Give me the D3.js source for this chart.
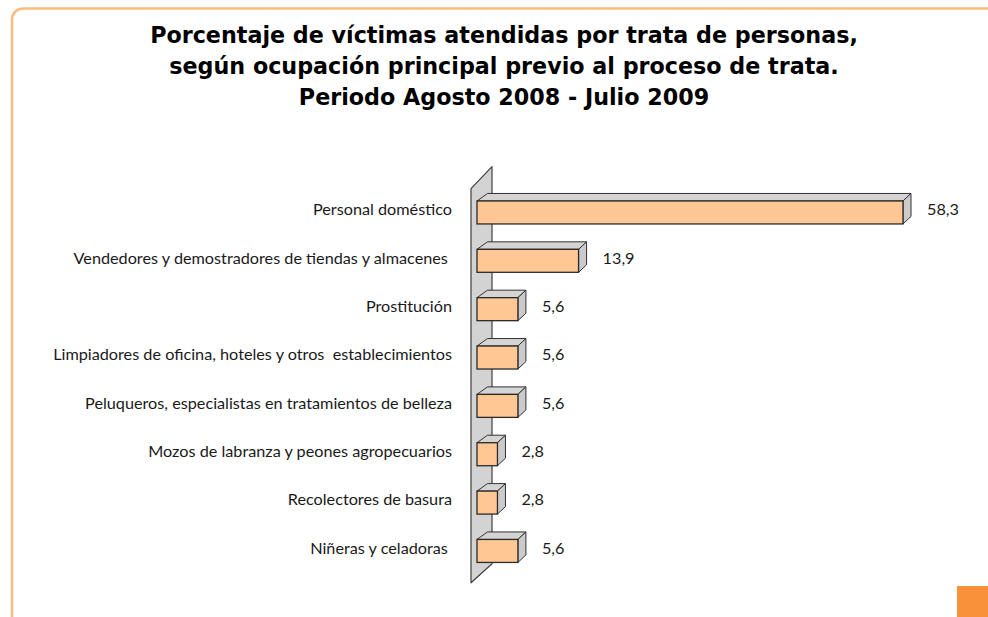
<!DOCTYPE html>
<html>
<head>
<meta charset="utf-8">
<script src="https://cdn.jsdelivr.net/npm/d3@7"></script>
<style>
  html, body { margin: 0; padding: 0; background: #ffffff; }
  svg { display: block; }
  text { white-space: pre; }
</style>
</head>
<body>
<script>
// ---- Data ----
const titleLines = [
  "Porcentaje de víctimas atendidas por trata de personas,",
  "según ocupación principal previo al proceso de trata.",
  "Periodo Agosto 2008 - Julio 2009"
];
const categories = [
  "Personal doméstico",
  "Vendedores y demostradores de tiendas y almacenes ",
  "Prostitución",
  "Limpiadores de oficina, hoteles y otros  establecimientos",
  "Peluqueros, especialistas en tratamientos de belleza",
  "Mozos de labranza y peones agropecuarios",
  "Recolectores de basura",
  "Niñeras y celadoras "
];
const values = [58.3, 13.9, 5.6, 5.6, 5.6, 2.8, 2.8, 5.6];
const valueLabels = ["58,3", "13,9", "5,6", "5,6", "5,6", "2,8", "2,8", "5,6"];

// ---- Layout ----
const W = 988, H = 617;
const svg = d3.select("body").append("svg").attr("width", W).attr("height", H);

// frame
svg.append("rect")
  .attr("x", 12).attr("y", 8.5).attr("width", 1000).attr("height", 700)
  .attr("rx", 11).attr("ry", 11)
  .attr("fill", "none").attr("stroke", "#FDBB7C").attr("stroke-width", 2.5);

// orange square
svg.append("rect")
  .attr("x", 957).attr("y", 586).attr("width", 31).attr("height", 31)
  .attr("fill", "#F7923A");

// title
const titleFont = "Tahoma, 'DejaVu Sans', sans-serif";
const title = svg.append("g");
const baselines = [43, 74, 105];
titleLines.forEach((t, i) => {
  title.append("text")
    .attr("x", 504).attr("y", baselines[i])
    .attr("text-anchor", "middle")
    .attr("font-family", titleFont)
    .attr("font-weight", "bold")
    .attr("font-size", 22)
    .attr("fill", "#000")
    .text(t);
});
// fit title width (first line spans ~708px in reference)
{
  const first = title.select("text").node();
  const w = first.getComputedTextLength();
  const fs = 22 * 708 / w;
  title.selectAll("text").attr("font-size", fs);
}

// scales
const x = d3.scaleLinear().domain([0, 58.3]).range([477, 903]);
const y = d3.scaleBand().domain(categories).range([175.6, 587.8]).paddingInner(0.5244).paddingOuter(0.5244);
const bw = y.bandwidth();
const dxR = 8, dxL = 10.5, dy = -7.5;

// wall
const wallTop = y.range()[0] + 13, wallBot = y.range()[1] - 5;
svg.append("polygon")
  .attr("points", [
    [x(0) - 6, wallTop], [x(0) + 15, wallTop - 22],
    [x(0) + 15, wallBot - 19], [x(0) - 6, wallBot]
  ].map(p => p.join(",")).join(" "))
  .attr("fill", "#D3D3D3").attr("stroke", "#404040").attr("stroke-width", 1.2)
  .attr("stroke-linejoin", "round");

// bars
const labelFont = "Lato, 'Open Sans', sans-serif";
const bars = svg.append("g");
categories.forEach((c, i) => {
  const x0 = x(0), x1 = x(values[i]);
  const top = y(c), bot = y(c) + bw;
  const g = bars.append("g");
  // top face
  g.append("polygon")
    .attr("points", [[x0, top], [x0 + dxL, top + dy], [x1 + dxR, top + dy], [x1, top]].map(p => p.join(",")).join(" "))
    .attr("fill", "#D4D4D4").attr("stroke", "#333").attr("stroke-width", 1).attr("stroke-linejoin", "round");
  // side face
  g.append("polygon")
    .attr("points", [[x1, top], [x1 + dxR, top + dy], [x1 + dxR, bot + dy], [x1, bot]].map(p => p.join(",")).join(" "))
    .attr("fill", "#CBCBCB").attr("stroke", "#333").attr("stroke-width", 1).attr("stroke-linejoin", "round");
  // front
  g.append("rect")
    .attr("x", x0).attr("y", top).attr("width", x1 - x0).attr("height", bw)
    .attr("fill", "#FFC794").attr("stroke", "#2a2a2a").attr("stroke-width", 1.3);
});

// category labels
const catG = svg.append("g");
categories.forEach((c, i) => {
  catG.append("text")
    .attr("x", 452)
    .attr("y", y(c) + bw / 2 + dy / 2)
    .attr("text-anchor", "end")
    .attr("dominant-baseline", "central")
    .attr("font-family", labelFont)
    .attr("font-size", 14)
    .attr("fill", "#1a1a1a")
    .text(c);
});
// value labels
const valG = svg.append("g");
categories.forEach((c, i) => {
  valG.append("text")
    .attr("x", x(values[i]) + dxR + 16)
    .attr("y", y(c) + bw / 2 + dy / 2)
    .attr("dominant-baseline", "central")
    .attr("font-family", labelFont)
    .attr("font-size", 14)
    .attr("fill", "#1a1a1a")
    .text(valueLabels[i]);
});
// fit label font size: widest label spans ~399px in reference
{
  const n = catG.selectAll("text").nodes()[3];
  const w = n.getComputedTextLength();
  const fs = 14 * 399 / w;
  catG.selectAll("text").attr("font-size", fs);
  valG.selectAll("text").attr("font-size", fs);
}
</script>
</body>
</html>
